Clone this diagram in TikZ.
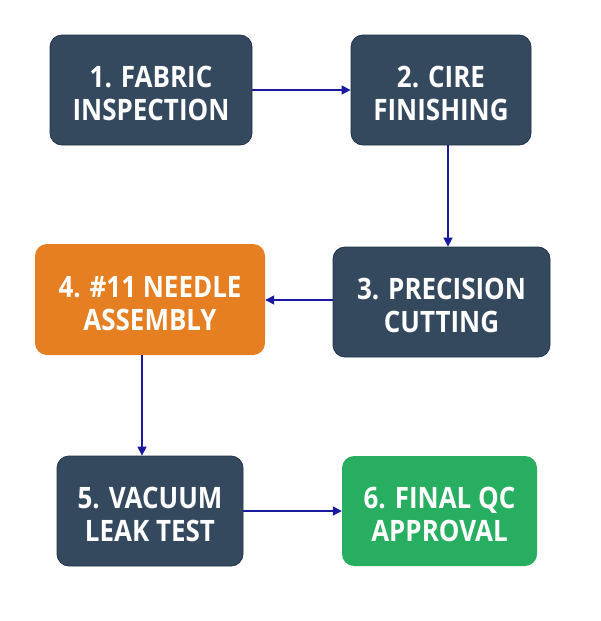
\documentclass[tikz,border=0pt]{standalone}
\usepackage{fontspec}
\setmainfont{Open Sans}[FakeStretch=0.88]
\usetikzlibrary{arrows.meta}
\definecolor{navybox}{HTML}{34495E}
\definecolor{navyedge}{HTML}{22334A}
\definecolor{orangebox}{HTML}{E67E22}
\definecolor{greenbox}{HTML}{27AE60}
\definecolor{arrowblue}{HTML}{1A1AA0}
\newcommand{\topstrut}{\rule{0pt}{29pt}}
\tikzset{
  stepbox/.style={rounded corners=12pt, text=white, font=\fontsize{29.5}{33}\selectfont\bfseries, align=center, inner sep=0pt},
  darkbox/.style={stepbox, fill=navybox, draw=navyedge, line width=0.8pt},
  orangestep/.style={stepbox, fill=orangebox},
  greenstep/.style={stepbox, fill=greenbox},
  flow/.style={draw=arrowblue, line width=1.3pt, -{Triangle[length=9pt,width=9pt]}}
}
\begin{document}
\begin{tikzpicture}[x=1pt,y=-1pt]
\useasboundingbox (0,0) rectangle (600,621);
\node[darkbox, minimum width=202pt, minimum height=110pt] (n1) at (151,90) {\topstrut 1. FABRIC\\INSPECTION};
\node[darkbox, minimum width=180pt, minimum height=110pt] (n2) at (441,90) {\topstrut 2. CIRE\\FINISHING};
\node[darkbox, minimum width=217pt, minimum height=110pt] (n3) at (441.5,302) {\topstrut 3. PRECISION\\CUTTING};
\node[orangestep, minimum width=230pt, minimum height=111pt] (n4) at (150,299.5) {\topstrut 4. \#11 NEEDLE\\ASSEMBLY};
\node[darkbox, minimum width=186pt, minimum height=110pt] (n5) at (150,511) {\topstrut 5. VACUUM\\LEAK TEST};
\node[greenstep, minimum width=195pt, minimum height=110pt] (n6) at (439.5,511) {\topstrut 6. FINAL QC\\APPROVAL};
\draw[flow] (n1.east) -- (n2.west);
\draw[flow] (n2.south -| 448,0) -- (n3.north -| 448,0);
\draw[flow] (n3.west |- 0,300) -- (n4.east |- 0,300);
\draw[flow] (n4.south -| 142,0) -- (n5.north -| 142,0);
\draw[flow] (n5.east) -- (n6.west);
\end{tikzpicture}
\end{document}
